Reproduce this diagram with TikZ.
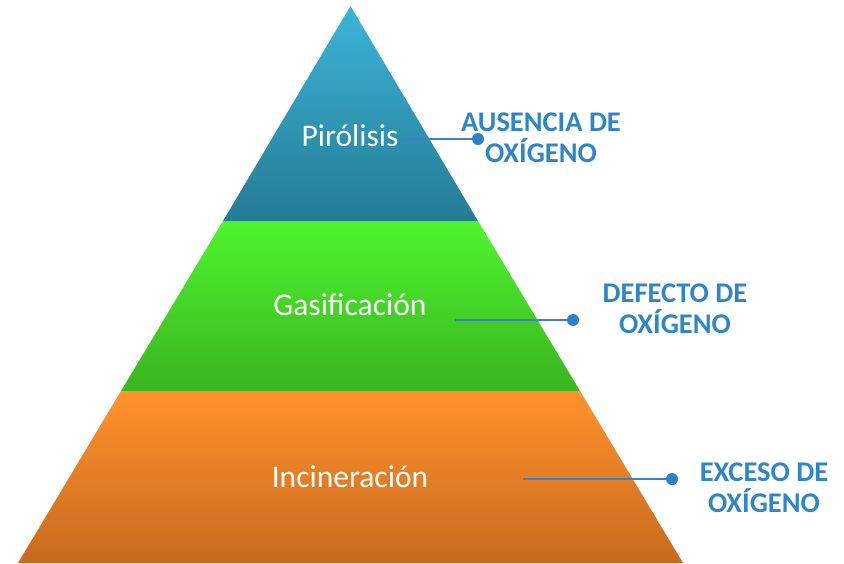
\documentclass[tikz,border=0pt]{standalone}
\usepackage{fontspec}
\setmainfont{Carlito}
\begin{document}
\begin{tikzpicture}[x=1pt,y=-1pt,
  layertext/.style={text=white,font=\fontsize{31.5}{34}\selectfont,inner sep=0pt},
  sidelabel/.style={text=labelblue,font=\bfseries\fontsize{28.5}{31}\selectfont,align=center,inner sep=0pt},
  link/.style={draw=lineblue,line width=1.6pt},
  dotnode/.style={circle,fill=dotblue,inner sep=0pt,minimum size=12pt}]
\definecolor{labelblue}{HTML}{2E86C8}
\definecolor{lineblue}{HTML}{3C82C4}
\definecolor{dotblue}{HTML}{2F80CC}
\definecolor{bluetop}{HTML}{3BB5D8}
\definecolor{bluebot}{HTML}{257B94}
\definecolor{greentop}{HTML}{4FF42F}
\definecolor{greenbot}{HTML}{3AB41F}
\definecolor{orangetop}{HTML}{FF932C}
\definecolor{orangebot}{HTML}{C8691E}
\useasboundingbox (0,0) rectangle (844,563);
% layers
\shade[top color=bluetop,bottom color=bluebot] (350.5,6) -- (478,221) -- (223,221) -- cycle;
\shade[top color=greentop,bottom color=greenbot] (223,221) -- (478,221) -- (580,391) -- (121,391) -- cycle;
\shade[top color=orangetop,bottom color=orangebot] (121,391) -- (580,391) -- (683,563) -- (18,563) -- cycle;
% layer texts
\node[layertext] (pir) at (350,136) {Pirólisis};
\node[layertext] (gas) at (350,305) {Gasificación};
\node[layertext] (inc) at (350,477) {Incineración};
% connectors
\coordinate (s1) at (403,139);
\coordinate (s2) at (455,320);
\coordinate (s3) at (523,479);
\node[dotnode] (d1) at (478,139) {};
\node[dotnode] (d2) at (573,320) {};
\node[dotnode] (d3) at (672,479) {};
\draw[link] (s1) -- (d1);
\draw[link] (s2) -- (d2);
\draw[link] (s3) -- (d3);
% labels
\node[sidelabel] (l1) at (541,138) {AUSENCIA DE\\OXÍGENO};
\node[sidelabel] (l2) at (675,309) {DEFECTO DE\\OXÍGENO};
\node[sidelabel] (l3) at (764,488) {EXCESO DE\\OXÍGENO};
\end{tikzpicture}
\end{document}
